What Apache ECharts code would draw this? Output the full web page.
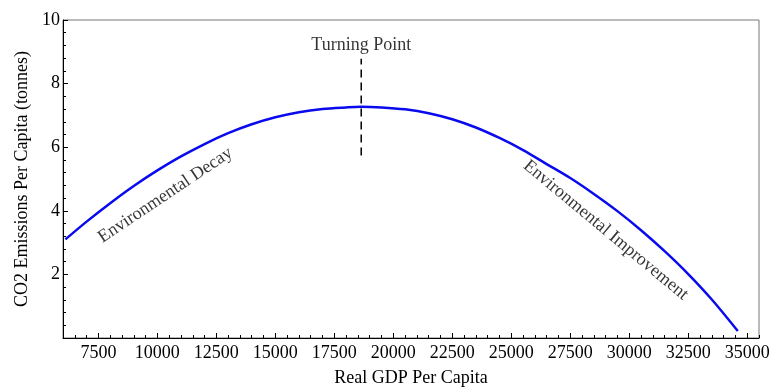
<!DOCTYPE html>
<html>
<head>
<meta charset="utf-8">
<script src="https://cdn.jsdelivr.net/npm/echarts@6/dist/echarts.min.js"></script>
<style>html,body{margin:0;padding:0;background:#fff}#c{width:775px;height:392px}</style>
</head>
<body>
<div id="c"></div>
<script>
// Data
var gdp = [6100, 7000, 8000, 9000, 10000, 11000, 12000, 13000, 14000, 15000, 16000, 17000, 18000, 18600, 19500, 20500, 21500, 22500, 23500, 24500, 25500, 26500, 27500, 28500, 29500, 30500, 31500, 32500, 33500, 34600];
var co2 = [3.10, 3.66, 4.24, 4.78, 5.27, 5.71, 6.10, 6.44, 6.72, 6.94, 7.10, 7.20, 7.25, 7.27, 7.25, 7.19, 7.07, 6.88, 6.62, 6.29, 5.91, 5.47, 5.03, 4.53, 3.99, 3.39, 2.73, 2.01, 1.21, 0.22];
var xTicks = [7500, 10000, 12500, 15000, 17500, 20000, 22500, 25000, 27500, 30000, 32500, 35000];
var yTicks = [2, 4, 6, 8, 10];
var turningX = 18640;
var turningY = [5.74, 8.78];
var annotations = [
  {text: 'Turning Point', x: 18640, y: 9.2, rotate: 0},
  {text: 'Environmental Decay', x: 10340, y: 4.49, rotate: 33.8},
  {text: 'Environmental Improvement', x: 29000, y: 3.39, rotate: -39.7}
];

var FONT = 'Liberation Serif';
var chart = echarts.init(document.getElementById('c'), null, {renderer: 'canvas'});
var curve = gdp.map(function (g, i) { return [g, co2[i]]; });
var dash = turningY.map(function (v) { return [turningX, v]; });

var option = {
  animation: false,
  backgroundColor: '#fff',
  grid: {left: 63, right: 16, top: 20, bottom: 49, show: true, borderColor: '#777', borderWidth: 1, containLabel: false},
  xAxis: [{
    type: 'value', min: 6000, max: 35500, position: 'bottom',
    name: 'Real GDP Per Capita', nameLocation: 'middle', nameGap: 31,
    nameTextStyle: {fontFamily: FONT, fontSize: 18, color: '#000'},
    axisLine: {show: true, lineStyle: {color: '#000', width: 1}},
    axisTick: {show: true, inside: true, length: 5, customValues: xTicks, lineStyle: {color: '#000'}},
    axisLabel: {show: true, customValues: xTicks, formatter: function (v) { return String(v); },
      fontFamily: FONT, fontSize: 18, color: '#000', margin: 6},
    splitLine: {show: false}
  }, {
    type: 'value', min: 6000, max: 35500, interval: 500, position: 'bottom', offset: 0,
    axisLine: {show: false},
    axisTick: {show: true, inside: true, length: 3, lineStyle: {color: '#000'}},
    axisLabel: {show: false},
    splitLine: {show: false}
  }],
  yAxis: {
    type: 'value', min: 0, max: 10, interval: 2,
    name: 'CO2 Emissions Per Capita (tonnes)', nameLocation: 'middle', nameGap: 32,
    nameTextStyle: {fontFamily: FONT, fontSize: 18, color: '#000'},
    axisLine: {show: true, lineStyle: {color: '#000', width: 1}},
    axisTick: {show: true, inside: true, length: 5, lineStyle: {color: '#000'}},
    minorTick: {show: true, splitNumber: 5, length: 3, lineStyle: {color: '#000'}},
    axisLabel: {show: true, customValues: yTicks, fontFamily: FONT, fontSize: 18, color: '#000', margin: 3},
    splitLine: {show: false}, minorSplitLine: {show: false}
  },
  series: [{
    type: 'line', xAxisIndex: 0, data: curve, smooth: 0.3, showSymbol: false, symbol: 'none',
    lineStyle: {color: '#0a0aee', width: 2.5}, z: 3
  }, {
    type: 'line', xAxisIndex: 0, data: dash, showSymbol: false, symbol: 'none',
    lineStyle: {color: '#000', width: 1.5, type: [8, 5]}, z: 4
  }, {
    type: 'scatter', xAxisIndex: 0, symbolSize: 0,
    data: annotations.map(function (a) {
      return {value: [a.x, a.y], label: {show: true, position: 'inside', formatter: a.text, rotate: a.rotate,
        fontFamily: FONT, fontSize: 18, color: '#000'}};
    }),
    z: 5
  }]
};
chart.setOption(option);
</script>
</body>
</html>
